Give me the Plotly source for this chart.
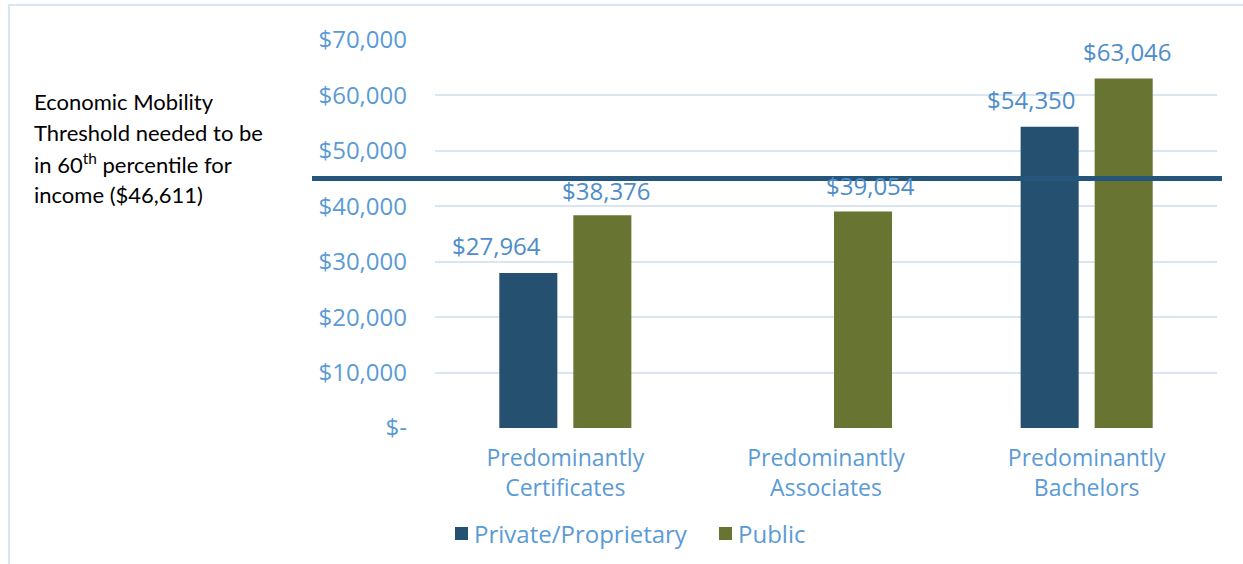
import plotly.graph_objects as go

categories = ["Predominantly<br>Certificates", "Predominantly<br>Associates", "Predominantly<br>Bachelors"]
private_vals = [27964, None, 54350]
public_vals = [38376, 39054, 63046]
series_names = ["Private/Proprietary", "Public"]
tick_vals = [0, 10000, 20000, 30000, 40000, 50000, 60000, 70000]
tick_text = ["$-", "$10,000", "$20,000", "$30,000", "$40,000", "$50,000", "$60,000", "$70,000"]
threshold_line_value = 45000  # position of the drawn line
threshold_text = ["Economic Mobility", "Threshold needed to be",
                  "in 60<sup>th</sup> percentile for", "income ($46,611)"]

FONT = "Open Sans"
TICK_COLOR = "#5B9BD5"
LABEL_COLOR = "#4E8DC9"
PRIV_COLOR = "#255070"
PUB_COLOR = "#687532"
GRID = "#DAE5F2"

# screen-pixel layout helpers (plot area 435..1217 x 40..428 on screen)
PL, PR, PT, PB = 435, 1217, 40, 428
W, H = 1243, 564
def px(sx):
    return (sx - PL) / (PR - PL)
def py(sy):
    return (PB - sy) / (PB - PT)

fig = go.Figure()
fig.add_trace(go.Bar(name=series_names[0], x=categories, y=private_vals, showlegend=False,
                     marker=dict(color=PRIV_COLOR, line=dict(width=0))))
fig.add_trace(go.Bar(name=series_names[1], x=categories, y=public_vals, showlegend=False,
                     marker=dict(color=PUB_COLOR, line=dict(width=0))))

# data labels (Excel labels were nudged individually)
label_xshift = {0: [-69, None, -55], 1: [41, 44, 41]}
label_yshift = {0: [9, None, 9], 1: [6, 8, 9]}
annotations = []
for si, vals in enumerate((private_vals, public_vals)):
    for cat, v, sh, ys in zip(categories, vals, label_xshift[si], label_yshift[si]):
        if v is None:
            continue
        annotations.append(dict(x=cat, y=v, xref="x", yref="y", text=f"${v:,}",
                                showarrow=False, xshift=sh, yanchor="bottom", yshift=ys,
                                font=dict(family=FONT, size=24, color=LABEL_COLOR)))

for i, line in enumerate(threshold_text):
    annotations.append(dict(x=px(32), y=py(101 + 31 * i), xref="paper", yref="paper",
                            xanchor="left", yanchor="middle", showarrow=False, text=line,
                            align="left", font=dict(family="Lato", size=22, color="#000000")))

# custom legend
legend_items = [(series_names[0], PRIV_COLOR, 455), (series_names[1], PUB_COLOR, 719)]
shapes = []
for name, color, sx in legend_items:
    shapes.append(dict(type="rect", xref="paper", yref="paper", x0=px(sx), x1=px(sx + 13),
                       y0=py(540), y1=py(527), fillcolor=color, line=dict(width=0)))
    annotations.append(dict(x=px(sx + 17), y=py(533), xref="paper", yref="paper",
                            xanchor="left", yanchor="middle", showarrow=False, text=name,
                            font=dict(family=FONT, size=24, color=TICK_COLOR)))

shapes += [
    dict(type="line", xref="paper", yref="y", x0=px(312), x1=px(1222),
         y0=threshold_line_value, y1=threshold_line_value,
         line=dict(color="#26557C", width=5), layer="above"),
    dict(type="rect", xref="paper", yref="paper", x0=px(9), x1=px(1260), y0=py(580), y1=py(5),
         line=dict(color=GRID, width=2), fillcolor="rgba(0,0,0,0)", layer="below"),
]

fig.update_layout(
    width=W, height=H, autosize=False,
    margin=dict(l=PL, r=W - PR, t=PT, b=H - PB),
    paper_bgcolor="white", plot_bgcolor="white",
    barmode="group", bargap=0.432, bargroupgap=0.216,
    showlegend=False,
    font=dict(family=FONT, size=22, color=TICK_COLOR),
    xaxis=dict(showgrid=False, showline=False, zeroline=False, ticks="",
               tickfont=dict(family=FONT, size=23, color=TICK_COLOR), ticklabelstandoff=14),
    yaxis=dict(range=[0, 70000], tickvals=tick_vals, ticktext=tick_text,
               showgrid=True, gridcolor=GRID, gridwidth=2, zeroline=False, showline=False,
               ticks="", ticklabelstandoff=27,
               tickfont=dict(family=FONT, size=24, color=TICK_COLOR)),
    annotations=annotations,
    shapes=shapes,
)

fig.write_html("out.html", config={"displayModeBar": False},
               post_script="document.body.style.margin='0px';document.body.style.overflow='hidden';")
